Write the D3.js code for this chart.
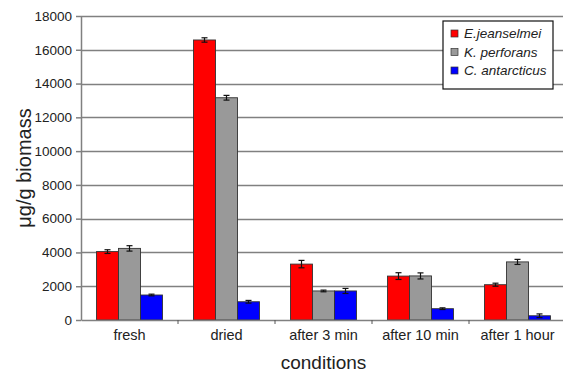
<!DOCTYPE html>
<html><head><meta charset="utf-8">
<script src="https://cdn.jsdelivr.net/npm/d3@7"></script>
<style>body{margin:0;background:#fff}svg{display:block}</style>
</head><body>
<svg id="c" width="563" height="375"></svg>
<script>
const categories = ["fresh","dried","after 3 min","after 10 min","after 1 hour"];
const seriesNames = ["E.jeanselmei","K. perforans","C. antarcticus"];
const seriesColors = ["#ff0000","#999999","#0000ff"];
const ejeanselmei = [4050,16580,3310,2600,2090];
const kperforans = [4240,13160,1720,2610,3440];
const cantarcticus = [1480,1080,1720,670,250];
const ejeanselmeiErr = [110,130,220,200,90];
const kperforansErr = [160,140,50,180,150];
const cantarcticusErr = [50,80,150,50,110];
const yTicks = [0,2000,4000,6000,8000,10000,12000,14000,16000,18000];

const values = [ejeanselmei,kperforans,cantarcticus];
const errs = [ejeanselmeiErr,kperforansErr,cantarcticusErr];
const FONT = "Arial, 'Liberation Sans', sans-serif";

const svg = d3.select("#c");
const L=81, R=566, T=16, B=320;
const x = d3.scaleBand().domain(categories).range([L,R]).paddingInner(0).paddingOuter(0);
const y = d3.scaleLinear().domain([0,18000]).range([B,T]);

// gridlines
svg.append("g").selectAll("line").data(yTicks.filter(d=>d>0)).join("line")
  .attr("x1",L).attr("x2",R).attr("y1",d=>Math.round(y(d))+0.5).attr("y2",d=>Math.round(y(d))+0.5)
  .attr("stroke","#808080").attr("stroke-width",1.5);

// bars
const data = [];
categories.forEach((c,i)=>seriesNames.forEach((s,j)=>data.push({c,s,j,v:values[j][i],e:errs[j][i]})));
const bw = 22;
const gw = bw*3;
const bx = d => x(d.c) + (x.bandwidth()-gw)/2 + d.j*bw;
svg.append("g").selectAll("rect").data(data).join("rect")
  .attr("x",d=>bx(d)).attr("width",bw)
  .attr("y",d=>y(d.v)).attr("height",d=>B-y(d.v))
  .attr("fill",d=>seriesColors[d.j]).attr("stroke","#333").attr("stroke-width",0.9);

// error bars
const eg = svg.append("g").attr("stroke","#111").attr("stroke-width",1.2);
data.forEach(d=>{
  const cx = bx(d)+bw/2;
  eg.append("line").attr("x1",cx).attr("x2",cx).attr("y1",y(d.v+d.e)).attr("y2",y(d.v-d.e));
  eg.append("line").attr("x1",cx-3).attr("x2",cx+3).attr("y1",y(d.v+d.e)).attr("y2",y(d.v+d.e));
  eg.append("line").attr("x1",cx-3).attr("x2",cx+3).attr("y1",y(d.v-d.e)).attr("y2",y(d.v-d.e));
});

// y axis
const ya = svg.append("g").attr("transform",`translate(${L},0)`)
  .call(d3.axisLeft(y).tickValues(yTicks).tickSize(5).tickSizeOuter(0).tickFormat(d3.format("d")));
ya.select(".domain").attr("stroke","#808080").attr("stroke-width",1.5);
ya.selectAll(".tick line").attr("stroke","#808080").attr("stroke-width",1.5);
ya.selectAll("text").attr("font-family",FONT).attr("font-size",13.5).attr("fill","#222").attr("dx",-1);

// x axis
const xa = svg.append("g").attr("transform",`translate(0,${B})`)
  .call(d3.axisBottom(x).tickSize(0).tickSizeOuter(0).tickPadding(10));
xa.select(".domain").attr("stroke","#808080").attr("stroke-width",1.5);
xa.selectAll("text").attr("font-family",FONT).attr("font-size",14.5).attr("fill","#222");
svg.append("g").selectAll("line").data(categories.slice(1)).join("line")
  .attr("x1",d=>x(d)).attr("x2",d=>x(d)).attr("y1",B).attr("y2",B+4)
  .attr("stroke","#555").attr("stroke-width",1);

// axis titles
svg.append("text").attr("x",(L+R)/2).attr("y",369).attr("text-anchor","middle")
  .attr("font-family",FONT).attr("font-size",19).attr("fill","#222").text("conditions");
svg.append("text").attr("transform",`translate(31,${(T+B)/2}) rotate(-90)`).attr("text-anchor","middle")
  .attr("font-family",FONT).attr("font-size",20).attr("fill","#222").text("μg/g biomass");

// legend
const lg = svg.append("g").attr("transform","translate(443,21)");
lg.append("rect").attr("width",110).attr("height",68).attr("fill","#fff").attr("stroke","#111").attr("stroke-width",1.2);
seriesNames.forEach((s,i)=>{
  const yy = 12 + i*18.5;
  lg.append("rect").attr("x",8).attr("y",yy-3).attr("width",7).attr("height",7)
    .attr("fill",seriesColors[i]).attr("stroke","#333").attr("stroke-width",0.7);
  lg.append("text").attr("x",21).attr("y",yy+5).attr("font-family",FONT)
    .attr("font-style","italic").attr("font-size",13.5).attr("fill","#222").text(s);
});
</script>
</body></html>
